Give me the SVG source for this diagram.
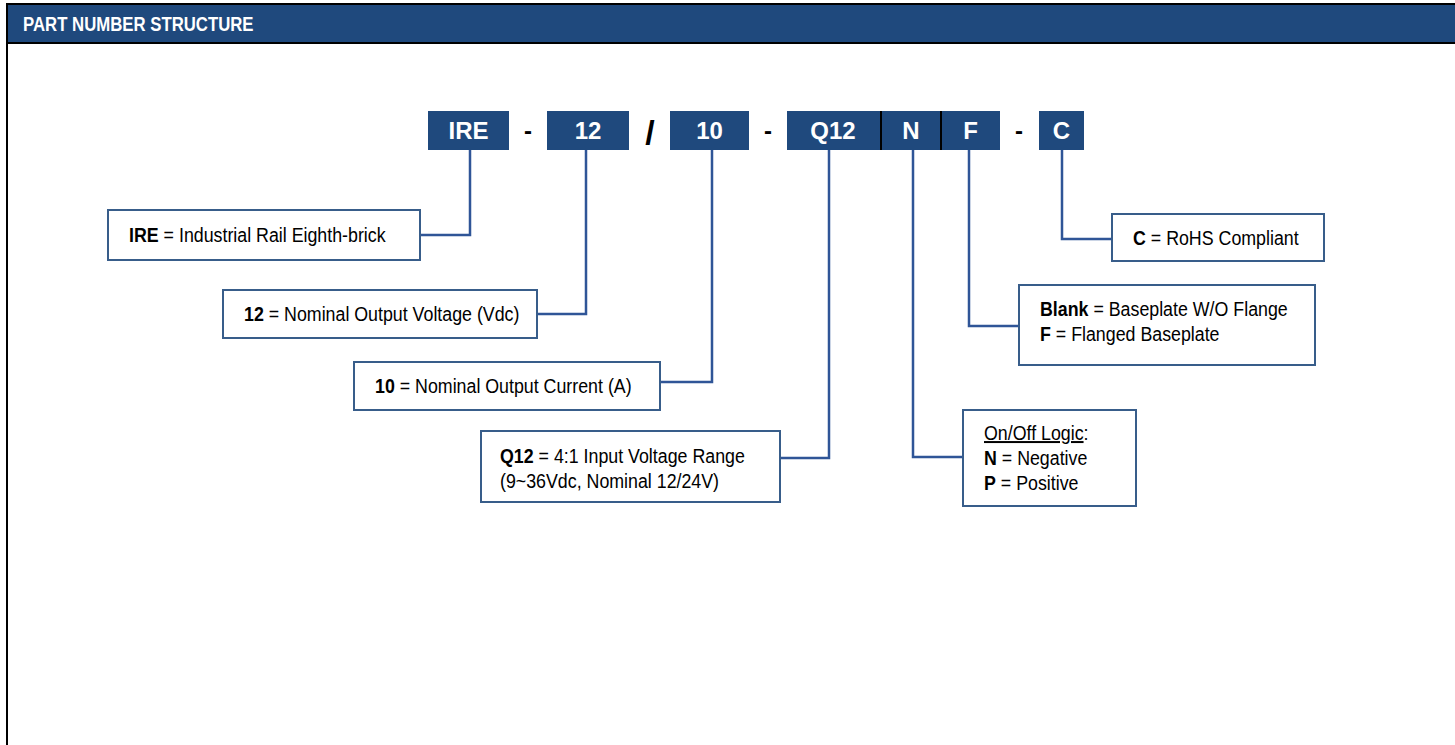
<svg xmlns="http://www.w3.org/2000/svg" width="1455" height="745" viewBox="0 0 1455 745">
<style>
.frame{fill:none;stroke:#000;stroke-width:2}
.code{fill:#1f497d}
.codet{font-family:"Liberation Sans",Arial,sans-serif;font-weight:bold;font-size:24px;fill:#fff;text-anchor:middle}
.sep{font-family:"Liberation Sans",Arial,sans-serif;font-weight:bold;font-size:24px;fill:#000;text-anchor:middle}
.slash{font-size:34px}
.lbl{fill:#fff;stroke:#385d8a;stroke-width:2}
.t{font-family:"Liberation Sans",Arial,sans-serif;font-size:20px;fill:#000}
.b{font-weight:bold}
.conn{fill:none;stroke:#2f5597;stroke-width:2.5;stroke-linejoin:miter}
</style>
<rect x="0" y="0" width="1455" height="745" fill="#fff"/>
<g id="header">
<rect x="7" y="4" width="1449" height="39" fill="#1f497d"/>
<line class="frame" x1="6" y1="4" x2="1455" y2="4"/>
<line class="frame" x1="7" y1="43" x2="1455" y2="43"/>
<line class="frame" x1="7" y1="3" x2="7" y2="745"/>
<text transform="translate(23,31) scale(0.86,1)" font-family="Liberation Sans,Arial,sans-serif" font-weight="bold" font-size="19.5" fill="#fff">PART NUMBER STRUCTURE</text>
</g>
<g id="connectors">
<polyline class="conn" points="470,150 470,235 420,235"/>
<polyline class="conn" points="586,150 586,314 537,314"/>
<polyline class="conn" points="712,150 712,382 660,382"/>
<polyline class="conn" points="829,150 829,458 780,458"/>
<polyline class="conn" points="913,150 913,457 963,457"/>
<polyline class="conn" points="969,150 969,326 1019,326"/>
<polyline class="conn" points="1062,150 1062,239 1112,239"/>
</g>
<g id="code-IRE"><rect class="code" x="428" y="111" width="81" height="39"/><text class="codet" x="468.5" y="139">IRE</text></g>
<g id="sep1"><text class="sep" x="528" y="139">-</text></g>
<g id="code-12"><rect class="code" x="547" y="111" width="82" height="39"/><text class="codet" x="588" y="139">12</text></g>
<g id="sep2"><text class="sep slash" x="650" y="144">/</text></g>
<g id="code-10"><rect class="code" x="670" y="111" width="79" height="39"/><text class="codet" x="709.5" y="139">10</text></g>
<g id="sep3"><text class="sep" x="768" y="139">-</text></g>
<g id="code-Q12"><rect class="code" x="787" y="111" width="94" height="39"/><text class="codet" x="833" y="139">Q12</text></g>
<g id="code-N"><rect class="code" x="881" y="111" width="60" height="39"/><text class="codet" x="911" y="139">N</text></g>
<g id="code-F"><rect class="code" x="941" y="111" width="59" height="39"/><text class="codet" x="970.5" y="139">F</text></g>
<g id="dividers"><line x1="881" y1="111" x2="881" y2="150" stroke="#000" stroke-width="2"/><line x1="941" y1="111" x2="941" y2="150" stroke="#000" stroke-width="2"/></g>
<g id="sep4"><text class="sep" x="1019" y="139">-</text></g>
<g id="code-C"><rect class="code" x="1039" y="111" width="45" height="39"/><text class="codet" x="1061.5" y="139">C</text></g>

<g id="label-IRE"><rect class="lbl" x="108" y="210" width="312" height="50"/>
<text class="t" transform="translate(129,242) scale(0.89,1)"><tspan class="b">IRE</tspan> = Industrial Rail Eighth-brick</text></g>
<g id="label-12"><rect class="lbl" x="223" y="290" width="314" height="48"/>
<text class="t" transform="translate(244,321) scale(0.89,1)"><tspan class="b">12</tspan> = Nominal Output Voltage (Vdc)</text></g>
<g id="label-10"><rect class="lbl" x="354" y="362" width="306" height="48"/>
<text class="t" transform="translate(375,393) scale(0.89,1)"><tspan class="b">10</tspan> = Nominal Output Current (A)</text></g>
<g id="label-Q12"><rect class="lbl" x="481" y="431" width="299" height="71"/>
<text class="t" transform="translate(500,463) scale(0.89,1)"><tspan class="b">Q12</tspan> = 4:1 Input Voltage Range</text>
<text class="t" transform="translate(500,488) scale(0.89,1)">(9~36Vdc, Nominal 12/24V)</text></g>
<g id="label-N"><rect class="lbl" x="963" y="410" width="173" height="96"/>
<text class="t" transform="translate(984,440) scale(0.89,1)"><tspan text-decoration="underline">On/Off Logic</tspan>:</text>
<text class="t" transform="translate(984,465) scale(0.89,1)"><tspan class="b">N</tspan> = Negative</text>
<text class="t" transform="translate(984,490) scale(0.89,1)"><tspan class="b">P</tspan> = Positive</text></g>
<g id="label-F"><rect class="lbl" x="1019" y="285" width="296" height="80"/>
<text class="t" transform="translate(1040,316) scale(0.89,1)"><tspan class="b">Blank</tspan> = Baseplate W/O Flange</text>
<text class="t" transform="translate(1040,341) scale(0.89,1)"><tspan class="b">F</tspan> = Flanged Baseplate</text></g>
<g id="label-C"><rect class="lbl" x="1112" y="214" width="212" height="47"/>
<text class="t" transform="translate(1133,245) scale(0.89,1)"><tspan class="b">C</tspan> = RoHS Compliant</text></g>
</svg>
